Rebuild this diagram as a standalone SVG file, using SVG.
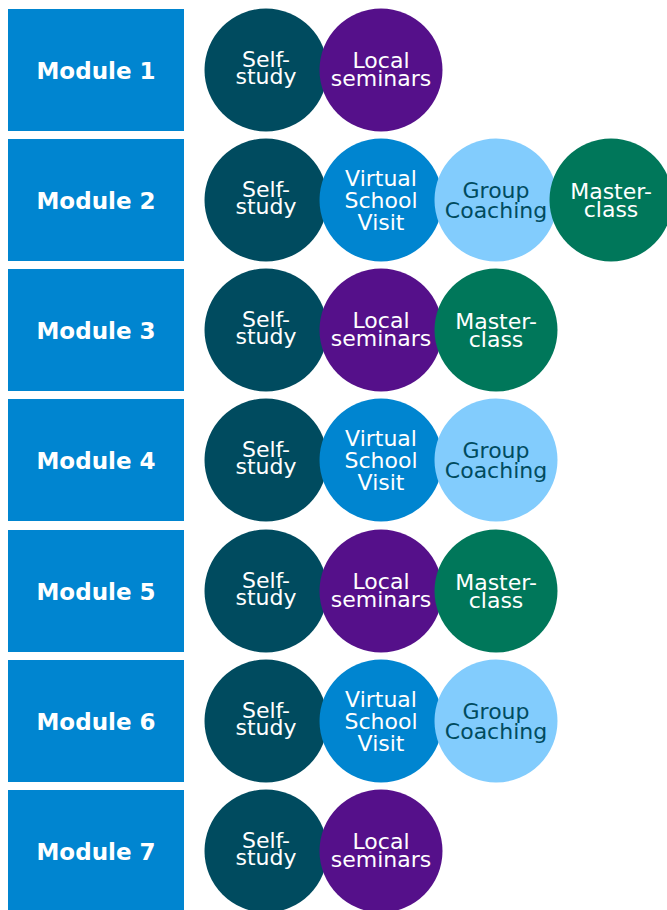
<svg xmlns="http://www.w3.org/2000/svg" width="667" height="910" viewBox="0 0 667 910">
<style>
.box{fill:#0085D0}
.mod{font-family:"DejaVu Sans",sans-serif;font-weight:bold;font-size:23px;fill:#fff;text-anchor:middle}
.ct{font-family:"DejaVu Sans",sans-serif;font-size:22px;fill:#fff;text-anchor:middle}
.dk{fill:#004B5F}
.ss{fill:#004B5F}
.ls{fill:#55108A}
.vs{fill:#0085D0}
.gc{fill:#82CCFD}
.mc{fill:#00775A}
</style>
<rect width="667" height="910" fill="#fff"/>
<defs>
<g id="self"><circle r="61.5" class="ss"/><text class="ct" y="-3">Self-</text><text class="ct" y="14">study</text></g>
<g id="local"><circle r="61.5" class="ls"/><text class="ct" y="-2">Local</text><text class="ct" y="16">seminars</text></g>
<g id="virt"><circle r="61.5" class="vs"/><text class="ct" y="-14">Virtual</text><text class="ct" y="8">School</text><text class="ct" y="30">Visit</text></g>
<g id="grp"><circle r="61.5" class="gc"/><text class="ct dk" y="-2">Group</text><text class="ct dk" y="18">Coaching</text></g>
<g id="mst"><circle r="61.5" class="mc"/><text class="ct" y="-1">Master-</text><text class="ct" y="17">class</text></g>
</defs>
<g id="module1"><rect class="box" x="8" y="9" width="176" height="122"/><text class="mod" x="96" y="79">Module 1</text></g>
<g id="row1"><use href="#self" x="266" y="70"/><use href="#local" x="381" y="70"/></g>
<g id="module2"><rect class="box" x="8" y="139" width="176" height="122"/><text class="mod" x="96" y="209">Module 2</text></g>
<g id="row2"><use href="#self" x="266" y="200"/><use href="#virt" x="381" y="200"/><use href="#grp" x="496" y="200"/><use href="#mst" x="611" y="200"/></g>
<g id="module3"><rect class="box" x="8" y="269" width="176" height="122"/><text class="mod" x="96" y="339">Module 3</text></g>
<g id="row3"><use href="#self" x="266" y="330"/><use href="#local" x="381" y="330"/><use href="#mst" x="496" y="330"/></g>
<g id="module4"><rect class="box" x="8" y="399" width="176" height="122"/><text class="mod" x="96" y="469">Module 4</text></g>
<g id="row4"><use href="#self" x="266" y="460"/><use href="#virt" x="381" y="460"/><use href="#grp" x="496" y="460"/></g>
<g id="module5"><rect class="box" x="8" y="530" width="176" height="122"/><text class="mod" x="96" y="600">Module 5</text></g>
<g id="row5"><use href="#self" x="266" y="591"/><use href="#local" x="381" y="591"/><use href="#mst" x="496" y="591"/></g>
<g id="module6"><rect class="box" x="8" y="660" width="176" height="122"/><text class="mod" x="96" y="730">Module 6</text></g>
<g id="row6"><use href="#self" x="266" y="721"/><use href="#virt" x="381" y="721"/><use href="#grp" x="496" y="721"/></g>
<g id="module7"><rect class="box" x="8" y="790" width="176" height="122"/><text class="mod" x="96" y="860">Module 7</text></g>
<g id="row7"><use href="#self" x="266" y="851"/><use href="#local" x="381" y="851"/></g>
<g id="connectors"></g>
</svg>
